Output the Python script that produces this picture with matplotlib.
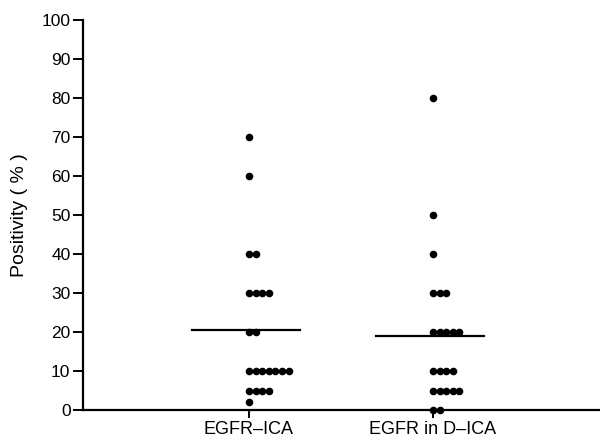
import matplotlib
matplotlib.use('Agg')
import matplotlib.pyplot as plt
from collections import Counter

plt.rcParams['font.family'] = ['Liberation Sans', 'DejaVu Sans']

categories = ['EGFR–ICA', 'EGFR in D–ICA']
egfr_ica = [70, 60, 40, 40, 30, 30, 30, 30, 20, 20,
            10, 10, 10, 10, 10, 10, 10, 5, 5, 5, 5, 2]
egfr_dica = [80, 50, 40, 30, 30, 30, 20, 20, 20, 20, 20,
             10, 10, 10, 10, 5, 5, 5, 5, 5, 0, 0]
medians = [20.5, 19]
yticks = list(range(0, 101, 10))

fig = plt.figure(figsize=(6.0, 4.41), dpi=100)
ax = fig.add_axes([83/600, 1 - 410/441, 517/600, 390/441])

positions = [1, 2]
step = 0.036
for pos, vals in zip(positions, [egfr_ica, egfr_dica]):
    counts = Counter(vals)
    for v, n in counts.items():
        xs = [pos + i * step for i in range(n)]
        ax.scatter(xs, [v] * n, s=30, color='black', zorder=3, clip_on=False, linewidths=0)

for pos, m in zip(positions, medians):
    ax.plot([pos - 0.31, pos + 0.28], [m, m], color='black', lw=1.6, zorder=2)

ax.set_xlim(0.098, 2.908)
ax.set_ylim(0, 100)
ax.set_yticks(yticks)
ax.set_yticklabels([str(t) for t in yticks], fontsize=12.5)
ax.set_xticks(positions)
ax.set_xticklabels(categories, fontsize=13)
ax.set_ylabel('Positivity ( % )', fontsize=14, labelpad=10)

for s in ['top', 'right']:
    ax.spines[s].set_visible(False)
for s in ['left', 'bottom']:
    ax.spines[s].set_linewidth(1.6)
ax.tick_params(axis='y', direction='out', length=7, width=1.4, pad=2)
ax.tick_params(axis='x', direction='out', length=6, width=1.4, pad=2)

fig.savefig('out.png', dpi=100)
